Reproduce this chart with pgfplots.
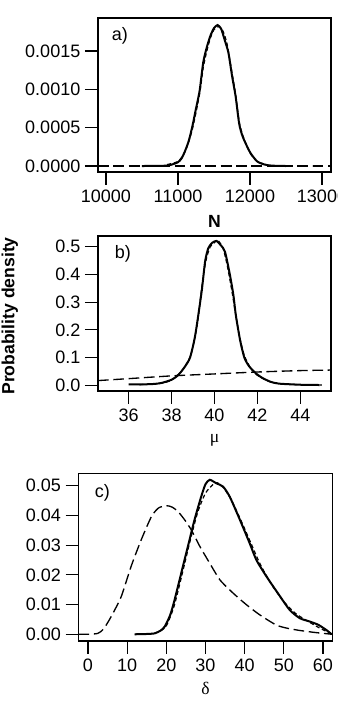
\documentclass[border=0pt]{standalone}
\usepackage{fontspec}
\setmainfont{Liberation Sans}
\newfontfamily\greekfont{Liberation Serif}
\usepackage{pgfplots}
\pgfplotsset{compat=1.18}
\pgfplotsset{
  panel/.style={
    scale only axis, anchor=south west,
    axis line style={black, line width=0.9pt},
    tick align=outside, tick pos=left,
    major tick length=9.75pt,
    tick style={black, line width=0.9pt},
    tick label style={font=\fontsize{13.5}{16}\selectfont},
    label style={font=\fontsize{13.2}{16}\selectfont},
    scaled ticks=false,
  },
  post/.style={black, line width=1.5pt, smooth, tension=0.4},
  approx/.style={black, line width=0.9pt, dash pattern=on 3pt off 2pt, smooth, tension=0.4},
  prior/.style={black, line width=1pt, dash pattern=on 8pt off 3.5pt, smooth, tension=0.4},
}
\begin{document}
\begin{tikzpicture}
% ---------------- a) ----------------
\begin{axis}[panel, at={(73.5pt,411pt)}, width=174.75pt, height=115.5pt,
  xmin=9889, xmax=13125, ymin=-0.000078, ymax=0.001932,
  xtick={10000,11000,12000,13000}, xticklabels={10000,11000,12000,13000},
  ytick={0,0.0005,0.001,0.0015}, yticklabels={0.0000,0.0005,0.0010,0.0015},
  xlabel={\bfseries N},
  xlabel style={at={(axis description cs:0.5,-0.318)}, anchor=center},
]
\addplot[prior] coordinates {(9889,0) (13125,0)};
\addplot[approx] coordinates {
(10850,0.00002) (11000,0.00006) (11100,0.00019) (11200,0.00048) (11300,0.00094)
(11350,0.00128) (11400,0.00150) (11450,0.00167) (11500,0.00178) (11560,0.00182)
(11620,0.00177) (11680,0.00160) (11750,0.00122) (11800,0.00094) (11850,0.00058)
(11900,0.00040) (12000,0.00017) (12100,0.00006) (12250,0.00001)};
\addplot[post] coordinates {
(10500,0) (10800,0.000003) (10900,0.000015) (11000,0.00005) (11050,0.0001)
(11100,0.0002) (11150,0.00033) (11200,0.00052) (11250,0.00075) (11300,0.00098)
(11350,0.00135) (11400,0.00155) (11450,0.00170) (11500,0.00180) (11550,0.00184)
(11600,0.00179) (11650,0.00164) (11700,0.00148) (11750,0.00118) (11800,0.00091)
(11850,0.00055) (11900,0.00038) (12000,0.00018) (12100,0.00006) (12200,0.00002)
(12300,0.000005) (12500,0)};
\node[anchor=west, font=\fontsize{13.5}{16}\selectfont] at (axis description cs:0.039,0.883) {a)};
\end{axis}
% ---------------- b) ----------------
\begin{axis}[panel, at={(73.5pt,246.75pt)}, width=174.75pt, height=116.25pt,
  xmin=34.57, xmax=45.43, ymin=-0.0206, ymax=0.539,
  xtick={36,38,40,42,44}, xticklabels={36,38,40,42,44},
  ytick={0,0.1,0.2,0.3,0.4,0.5}, yticklabels={0.0,0.1,0.2,0.3,0.4,0.5},
  xlabel={\greekfont μ},
  xlabel style={at={(axis description cs:0.5,-0.316)}, anchor=center},
  ylabel={\bfseries Probability density},
  ylabel style={at={(axis description cs:-0.378,0.484)}, anchor=center},
]
\addplot[prior] coordinates {(34.57,0.017) (36,0.024) (38,0.034) (40,0.041) (42,0.048) (44,0.053) (45.43,0.055)};
\addplot[approx] coordinates {
(36.5,0.002) (37.5,0.007) (38.0,0.019) (38.5,0.055) (38.9,0.11) (39.2,0.22)
(39.4,0.35) (39.6,0.45) (39.8,0.50) (40.0,0.515) (40.1,0.525) (40.2,0.52)
(40.4,0.495) (40.6,0.43) (40.8,0.345) (41.0,0.25) (41.2,0.165) (41.4,0.105)
(41.7,0.06) (42.0,0.036) (42.5,0.015) (43.0,0.006) (44.0,0.002) (45.0,0.001)};
\addplot[post] coordinates {
(36.0,0.003) (37.0,0.004) (37.5,0.008) (38.0,0.020) (38.3,0.036) (38.6,0.065)
(38.86,0.10) (39.1,0.18) (39.4,0.338) (39.56,0.446) (39.71,0.495) (39.9,0.515)
(40.1,0.521) (40.3,0.505) (40.49,0.482) (40.72,0.398) (40.88,0.326) (41.0,0.25)
(41.2,0.16) (41.39,0.10) (41.6,0.07) (41.9,0.045) (42.2,0.028) (42.6,0.013)
(43.0,0.006) (44.0,0.002) (44.9,0.001)};
\node[anchor=west, font=\fontsize{13.5}{16}\selectfont] at (axis description cs:0.052,0.884) {b)};
\end{axis}
% ---------------- c) ----------------
\begin{axis}[panel, at={(59pt,59.25pt)}, width=190.2pt, height=125.8pt,
  xmin=-2.37, xmax=62.37, ymin=-0.00226, ymax=0.0542,
  xtick={0,10,20,30,40,50,60}, xticklabels={0,10,20,30,40,50,60},
  ytick={0,0.01,0.02,0.03,0.04,0.05}, yticklabels={0.00,0.01,0.02,0.03,0.04,0.05},
  xlabel={\greekfont δ},
  xlabel style={at={(axis description cs:0.5,-0.28)}, anchor=center},
]
\addplot[prior] coordinates {
(-2.4,0) (0,0) (2.5,0.0003) (4,0.0018) (5.9,0.0059) (8.5,0.0127) (11,0.0228)
(13.6,0.0318) (16.2,0.0396) (18,0.0425) (20,0.0433) (21.5,0.0428) (23,0.0413)
(24.7,0.0385) (26.4,0.0351) (28.6,0.0295) (31.1,0.0239) (33.7,0.0183) (37.1,0.0138)
(40.5,0.0099) (43.9,0.0065) (48.1,0.0031) (51,0.0020) (54,0.0013) (58,0.0006) (62.4,0)};
\addplot[approx] coordinates {
(12,0) (16,0.0002) (18,0.0008) (20,0.0028) (22,0.0095) (24,0.0200) (26,0.031)
(28,0.041) (30,0.0475) (32,0.0505) (33,0.051) (34.5,0.0495) (36.5,0.0455)
(39,0.0385) (41.5,0.031) (44,0.0235) (47,0.0165) (50,0.011) (53,0.007) (56,0.0045)
(59,0.0022) (62,0.0002)};
\addplot[post] coordinates {
(11.9,0) (15,0.0001) (17,0.0003) (18.5,0.0012) (19.6,0.0026) (21,0.0065)
(22.1,0.0115) (23.8,0.0205) (25.5,0.0295) (27.2,0.0385) (28.9,0.0463) (30,0.0505)
(31.1,0.052) (32.8,0.0508) (34.5,0.0497) (36.2,0.0463) (38.8,0.0385) (41.3,0.0306)
(43.0,0.025) (45.6,0.0194) (48.5,0.0138) (51.5,0.0082) (54.1,0.0054) (56.6,0.0043)
(58.8,0.0032) (60.9,0.0014) (62.2,0)};
\node[anchor=west, font=\fontsize{13.5}{16}\selectfont] at (axis description cs:0.045,0.886) {c)};
\end{axis}
\pgfresetboundingbox
\useasboundingbox (0,0) rectangle (253.5pt,540pt);
\end{tikzpicture}
\end{document}
